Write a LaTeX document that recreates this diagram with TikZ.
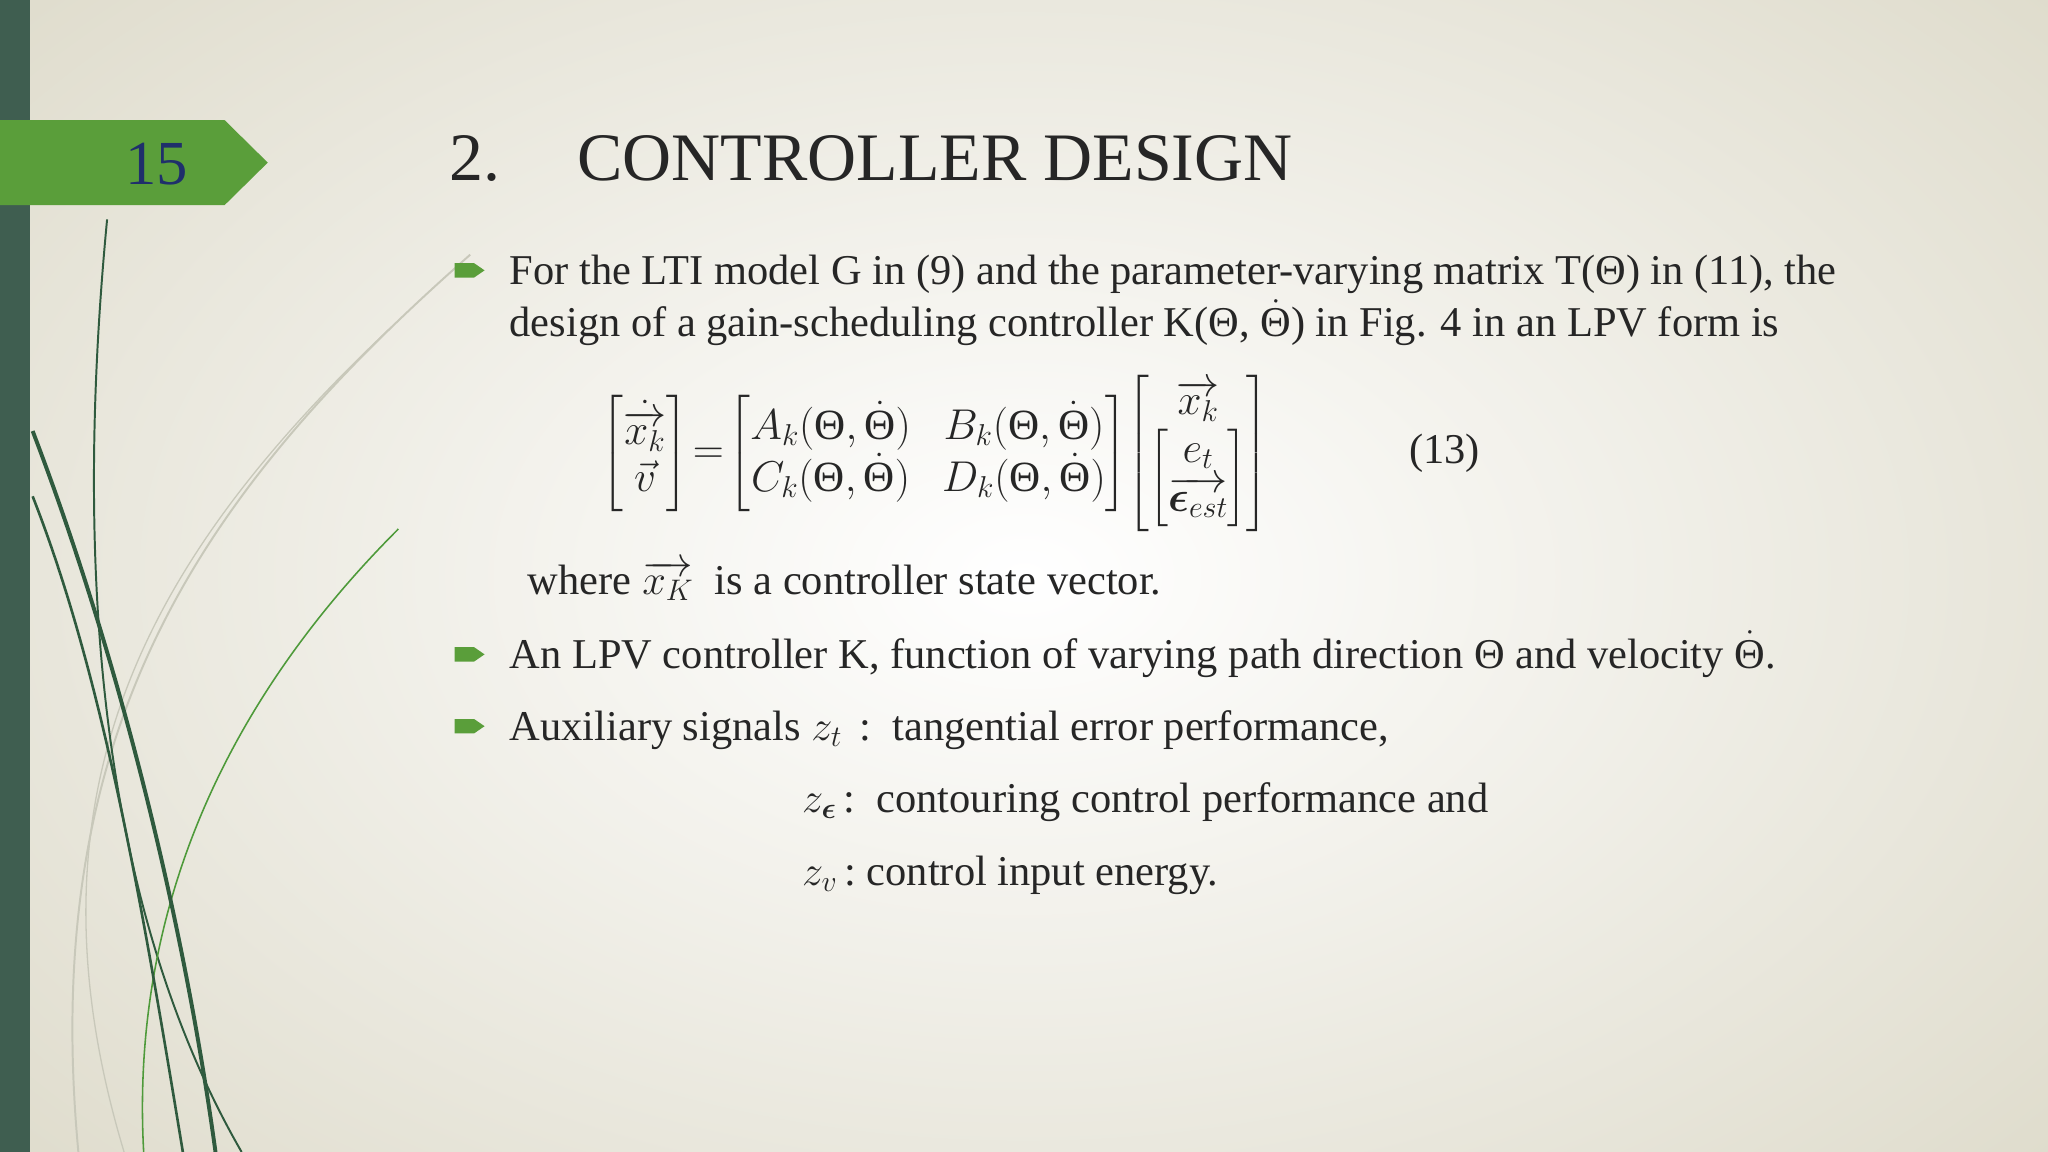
\documentclass[tikz,border=0pt]{standalone}
\usepackage{fix-cm}
\usepackage{amsmath}
\usepackage{fontspec}
\setmainfont{Liberation Serif}
\usetikzlibrary{shapes.geometric}
\definecolor{bgout}{HTML}{DEDBCB}
\definecolor{darkbar}{HTML}{3F5E50}
\definecolor{tabgreen}{HTML}{5A9E3A}
\definecolor{numblue}{HTML}{1F2F6B}
\definecolor{txt}{HTML}{262626}
\definecolor{lgreen}{HTML}{4E9A3A}
\definecolor{dgreen}{HTML}{2F5A3E}
\definecolor{lgray}{HTML}{C8C8BA}
\tikzset{body/.style={anchor=base west,inner sep=0pt,text=txt,font=\fontsize{32.5}{38}\selectfont},
 bul/.style={fill=tabgreen,draw=none}}
\begin{document}
\begin{tikzpicture}[x=1pt,y=-1pt]
\useasboundingbox (0,0) rectangle (1568,882);
\shade[inner color=white,outer color=bgout] (-300,-250) rectangle (1868,1132);
\fill[darkbar] (0,0) rectangle (23,882);
% curves
\draw[lgray,line width=1.5pt] (360,195) .. controls (150,380) and (30,560) .. (60,882);
\draw[lgray,line width=1pt] (300,250) .. controls (120,420) and (10,600) .. (95,882);
\draw[dgreen,line width=1.5pt] (82,168) .. controls (55,450) and (80,700) .. (185,882);
\draw[lgreen,line width=1.2pt] (305,405) .. controls (170,540) and (100,700) .. (110,882);
\draw[dgreen,line width=3pt] (25,330) .. controls (90,500) and (140,700) .. (165,882);
\draw[dgreen,line width=2pt] (25,380) .. controls (80,520) and (110,700) .. (140,882);
% tab
\fill[tabgreen] (0,92) -- (172,92) -- (205,124.5) -- (172,157) -- (0,157) -- cycle;
\node[anchor=center,text=numblue,font=\fontsize{48}{54}\selectfont] (num) at (120,126) {15};
\node[anchor=base west,inner sep=0pt,text=txt,font=\fontsize{52}{60}\selectfont] (title) at (344,138) {2.};
\node[anchor=base west,inner sep=0pt,text=txt,font=\fontsize{52}{60}\selectfont] (title2) at (442,138) {CONTROLLER DESIGN};
% bullets
\foreach \y in {207,501,556}{
 \fill[bul] (348,\y-5.5) -- (363,\y-5.5) -- (371,\y) -- (363,\y+5.5) -- (348,\y+5.5) -- cycle;}
\node[body] (l1) at (390,218) {For the LTI model G in (9) and the parameter-varying matrix T(Θ) in (11), the};
\node[body] (l2) at (390,258) {design of a gain-scheduling controller K(Θ, $\dot{\text{Θ}}$) in Fig. 4 in an LPV form is};
\node[anchor=center,inner sep=0pt,text=txt,font=\fontsize{33}{36}\selectfont] (eq) at (716,347)
 {\setlength{\arraycolsep}{12pt}$\begin{bmatrix}\dot{\overrightarrow{x_k}}\\ \vec v\end{bmatrix}\!=\!
 \begin{bmatrix}A_k(\text{Θ}, \dot{\text{Θ}}) & B_k(\text{Θ}, \dot{\text{Θ}})\\ C_k(\text{Θ}, \dot{\text{Θ}}) & D_k(\text{Θ}, \dot{\text{Θ}})\end{bmatrix}\!
 \setlength{\arraycolsep}{3pt}\left[\begin{matrix}\overrightarrow{x_k}\\ \begin{bmatrix}e_t\\ \overrightarrow{\boldsymbol{\epsilon}_{est}}\end{bmatrix}\end{matrix}\right]$};
\node[anchor=center,inner sep=0pt,text=txt,font=\fontsize{32.5}{38}\selectfont] (eqn) at (1106,347) {(13)};
\node[body] (l3) at (404,455) {where $\overrightarrow{x_K}$\ \ is a controller state vector.};
\node[body] (l4) at (390,512) {An LPV controller K, function of varying path direction Θ and velocity $\dot{\text{Θ}}$.};
\node[body] (l5) at (390,567) {Auxiliary signals $z_t$\ \,:\ \ tangential error performance,};
\node[body] (l6) at (614,622) {$z_{\boldsymbol\epsilon}$\,:\ \ contouring control performance and};
\node[body] (l7) at (614,678) {$z_v$\,:\ control input energy.};
\end{tikzpicture}
\end{document}
